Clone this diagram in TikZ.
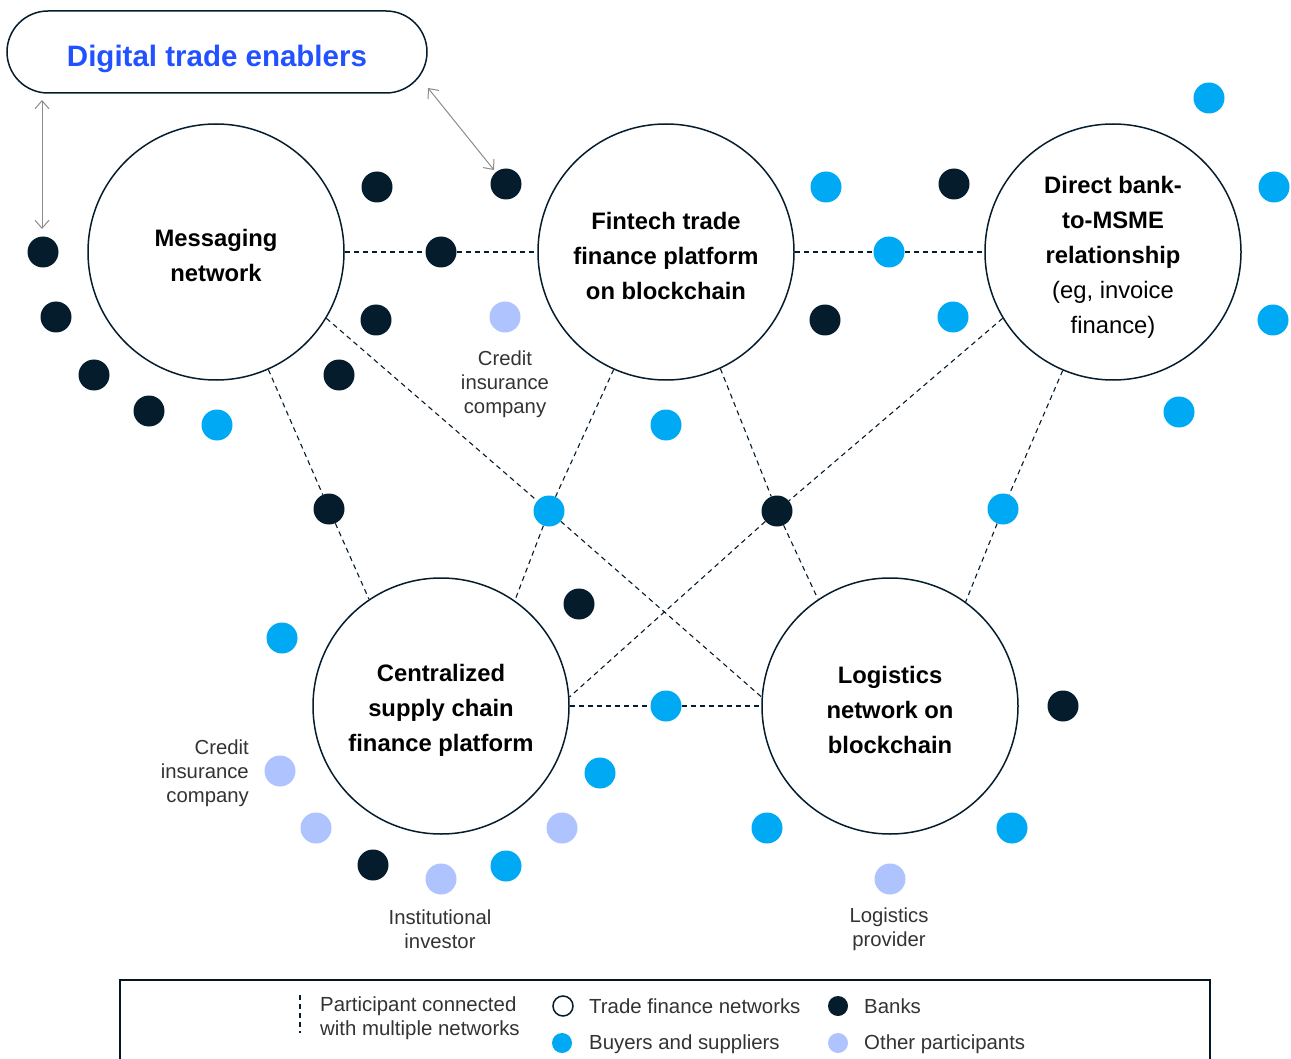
\documentclass[tikz,border=0pt]{standalone}
\usepackage{fontspec}
\setmainfont{Liberation Sans}
\usetikzlibrary{arrows.meta,backgrounds}
\definecolor{navy}{HTML}{051C2C}
\definecolor{cyanc}{HTML}{00A9F4}
\definecolor{lav}{HTML}{AFC3FF}
\definecolor{blueT}{HTML}{2251FF}
\definecolor{grayT}{HTML}{333333}
\definecolor{arrowG}{HTML}{8C8C8C}
\tikzset{
  net/.style={circle,draw=navy,line width=1.5pt,minimum size=256pt,inner sep=0pt},
  nettext/.style={align=center,font=\fontsize{23.8}{35}\selectfont\bfseries,text=black},
  bank/.style={circle,fill=navy,minimum size=31pt,inner sep=0pt},
  buyer/.style={circle,fill=cyanc,minimum size=31pt,inner sep=0pt},
  other/.style={circle,fill=lav,minimum size=31pt,inner sep=0pt},
  lbl/.style={align=center,text=grayT,font=\fontsize{20.3}{24}\selectfont,inner sep=0pt},
  dashline/.style={draw=navy,line width=1.1pt,dash pattern=on 5pt off 4pt},
  dblarrow/.style={draw=arrowG,line width=1pt,{Straight Barb[length=8pt,width=14pt]}-{Straight Barb[length=8pt,width=14pt]}},
  legtext/.style={anchor=west,text=grayT,font=\fontsize{20.4}{24}\selectfont,inner sep=0pt,align=left},
  legdot/.style={circle,minimum size=20pt,inner sep=0pt},
}
\begin{document}
\begin{tikzpicture}[x=1pt,y=-1pt]
\useasboundingbox (0,0) rectangle (1291,1059);
% pill
\node[draw=navy,line width=1.5pt,rounded corners=41pt,minimum width=420pt,minimum height=82pt,
  label={[text=blueT,font=\fontsize{29.5}{34}\selectfont\bfseries,yshift=-7pt]center:Digital trade enablers}] (pill) at (217,52) {};
% networks
\node[net,label={[nettext,yshift=-3pt]center:Messaging\\network}] (msg) at (216,252) {};
\node[net,label={[nettext,yshift=-4pt]center:Fintech trade\\finance platform\\on blockchain}] (fin) at (666,252) {};
\node[net,label={[nettext,font=\fontsize{23.8}{35}\selectfont,yshift=-5.5pt]center:\textbf{Direct bank-}\\\textbf{to-MSME}\\\textbf{relationship}\\(eg, invoice\\finance)}] (dir) at (1113,252) {};
\node[net,label={[nettext,yshift=-4.5pt]center:Centralized\\supply chain\\finance platform}] (cen) at (441,706) {};
\node[net,label={[nettext,yshift=-3.5pt]center:Logistics\\network on\\blockchain}] (log) at (890,706) {};
% banks
\node[bank] (b1) at (377,187) {};
\node[bank] (b2) at (506,184) {};
\node[bank] (b3) at (43,252) {};
\node[bank] (b4) at (441,252) {};
\node[bank] (b5) at (56,317) {};
\node[bank] (b6) at (376,320) {};
\node[bank] (b7) at (94,375) {};
\node[bank] (b8) at (339,375) {};
\node[bank] (b9) at (149,411) {};
\node[bank] (b10) at (954,184) {};
\node[bank] (b11) at (825,320) {};
\node[bank] (b12) at (329,509) {};
\node[bank] (b13) at (777,511) {};
\node[bank] (b14) at (579,604) {};
\node[bank] (b15) at (1063,706) {};
\node[bank] (b16) at (373,865) {};
% buyers and suppliers
\node[buyer] (c1) at (826,187) {};
\node[buyer] (c2) at (1209,98) {};
\node[buyer] (c3) at (1274,187) {};
\node[buyer] (c4) at (889,252) {};
\node[buyer] (c5) at (953,317) {};
\node[buyer] (c6) at (1273,320) {};
\node[buyer] (c7) at (217,425) {};
\node[buyer] (c8) at (666,425) {};
\node[buyer] (c9) at (1179,412) {};
\node[buyer] (c10) at (549,511) {};
\node[buyer] (c11) at (1003,509) {};
\node[buyer] (c12) at (282,638) {};
\node[buyer] (c13) at (666,706) {};
\node[buyer] (c14) at (600,773) {};
\node[buyer] (c15) at (506,866) {};
\node[buyer] (c16) at (767,828) {};
\node[buyer] (c17) at (1012,828) {};
% other participants
\node[other] (o1) at (505,317) {};
\node[other] (o2) at (280,771) {};
\node[other] (o3) at (316,828) {};
\node[other] (o4) at (562,828) {};
\node[other] (o5) at (441,879) {};
\node[other] (o6) at (890,879) {};
% labels
\node[lbl] (l1) at (505,384) {Credit\\insurance\\company};
\node[lbl,align=right,anchor=east] (l2) at (249,773) {Credit\\insurance\\company};
\node[lbl] (l3) at (440,929) {Institutional\\investor};
\node[lbl] (l4) at (889,929) {Logistics\\provider};
% connectors
\begin{scope}[on background layer]
\draw[dashline] (msg.east) -- (b4) -- (fin.west);
\draw[dashline] (fin.east) -- (c4) -- (dir.west);
\draw[dashline] (cen.east) -- (c13) -- (log.west);
\draw[dashline] (msg.-66.2) -- (b12) -- (cen.124.9);
\draw[dashline] (msg.-31) -- (c10) -- (log.176);
\draw[dashline] (fin.-114.2) -- (c10) -- (cen.55.6);
\draw[dashline] (fin.-65.8) -- (b13) -- (log.124);
\draw[dashline] (dir.211.4) -- (b13) -- (cen.4);
\draw[dashline] (dir.-113) -- (c11) -- (log.54.7);
\end{scope}
% arrows to digital trade enablers
\coordinate (a1s) at (42,100);
\coordinate (a1e) at (42,229);
\coordinate (a2s) at (428,88);
\coordinate (a2e) at (494,170);
\draw[dblarrow] (a1s) -- (a1e);
\draw[dblarrow] (a2s) -- (a2e);
% legend
\draw[draw=navy!80!black,line width=1.5pt] (120,1070) -- (120,980) -- (1210,980) -- (1210,1070);
\coordinate (ld1) at (300,995);
\coordinate (ld2) at (300,1033);
\draw[dashline] (ld1) -- (ld2);
\node[legtext] (t1) at (320,1018) {Participant connected\\with multiple networks};
\node[legdot,draw=navy,line width=1.5pt] (g1) at (563,1006) {};
\node[legtext] (t2) at (589,1006) {Trade finance networks};
\node[legdot,fill=navy] (g2) at (838,1006) {};
\node[legtext] (t3) at (864,1006) {Banks};
\node[legdot,fill=cyanc] (g3) at (562,1043) {};
\node[legtext] (t4) at (589,1044) {Buyers and suppliers};
\node[legdot,fill=lav] (g4) at (838,1043) {};
\node[legtext] (t5) at (864,1044) {Other participants};
\end{tikzpicture}
\end{document}
